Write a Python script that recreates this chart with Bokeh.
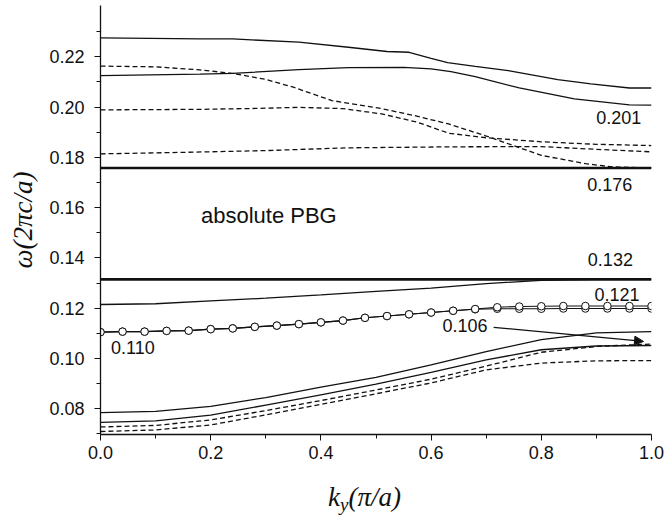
from bokeh.plotting import figure
from bokeh.layouts import column
from bokeh.models import (Label, Arrow, NormalHead, FixedTicker,
                          PrintfTickFormatter, Range1d, Div)
from bokeh.embed import file_html
from bokeh.resources import INLINE

# ---------------- data ----------------
x_ticks = [0.0, 0.2, 0.4, 0.6, 0.8, 1.0]
x_minor = [0.1, 0.3, 0.5, 0.7, 0.9]
y_ticks = [0.08, 0.10, 0.12, 0.14, 0.16, 0.18, 0.20, 0.22]
y_minor = [0.07, 0.09, 0.11, 0.13, 0.15, 0.17, 0.19, 0.21, 0.23]

# upper solid bands
t1_k = [0.0, 0.18, 0.24, 0.36, 0.45, 0.52, 0.56, 0.60, 0.63, 0.68, 0.74, 0.83, 0.89, 0.96, 1.0]
t1_w = [0.2275, 0.2271, 0.2271, 0.2258, 0.2238, 0.2221, 0.2218, 0.2194, 0.2177, 0.2162, 0.2145, 0.2109, 0.2092, 0.2076, 0.2076]
t2_k = [0.0, 0.18, 0.24, 0.36, 0.45, 0.55, 0.60, 0.636, 0.68, 0.76, 0.86, 0.96, 1.0]
t2_w = [0.2125, 0.2131, 0.2134, 0.2149, 0.2157, 0.2158, 0.2152, 0.2141, 0.2121, 0.2076, 0.2033, 0.2009, 0.2008]
# upper dashed bands
da_k = [0.0, 0.1, 0.18, 0.24, 0.30, 0.35, 0.42, 0.51, 0.57, 0.63, 0.70, 0.80, 0.88, 0.93, 1.0]
da_w = [0.2163, 0.2160, 0.2148, 0.2134, 0.2110, 0.2079, 0.2026, 0.1994, 0.1966, 0.1934, 0.1885, 0.1808, 0.1775, 0.1762, 0.1758]
db_k = [0.0, 0.18, 0.29, 0.36, 0.44, 0.51, 0.575, 0.632, 0.70, 0.80, 0.90, 1.0]
db_w = [0.1989, 0.1991, 0.1995, 0.1999, 0.1994, 0.1973, 0.1940, 0.1896, 0.1878, 0.1862, 0.1852, 0.1847]
dc_k = [0.0, 0.15, 0.30, 0.45, 0.635, 0.80, 0.90, 1.0]
dc_w = [0.1814, 0.1820, 0.1827, 0.1838, 0.1842, 0.1843, 0.1832, 0.1822]
# gap edges
gap_top = 0.1758
gap_bottom = 0.1315
# band rising to the lower gap edge
r_k = [0.0, 0.1, 0.2, 0.3, 0.4, 0.5, 0.6, 0.7, 0.8, 0.9, 1.0]
r_w = [0.1215, 0.1218, 0.1229, 0.1240, 0.1253, 0.1267, 0.1280, 0.1298, 0.1311, 0.1315, 0.1316]
# defect band (circles)
c_k = [0.00, 0.04, 0.08, 0.12, 0.16, 0.20, 0.24, 0.28, 0.32, 0.36, 0.40, 0.44, 0.48,
       0.52, 0.56, 0.60, 0.64, 0.68, 0.72, 0.76, 0.80, 0.84, 0.88, 0.92, 0.96, 1.00]
c_w1 = [0.1105, 0.1107, 0.1107, 0.1110, 0.1111, 0.1117, 0.1120, 0.1126, 0.1131, 0.1137, 0.1144, 0.1151, 0.1162,
        0.1169, 0.1176, 0.1183, 0.1190, 0.1197, 0.1204, 0.1207, 0.1208, 0.1209, 0.1209, 0.1209, 0.1209, 0.1209]
c_w2 = [0.1105, 0.1107, 0.1107, 0.1110, 0.1111, 0.1117, 0.1120, 0.1126, 0.1131, 0.1137, 0.1144, 0.1151, 0.1162,
        0.1169, 0.1176, 0.1183, 0.1190, 0.1196, 0.1198, 0.1198, 0.1198, 0.1199, 0.1199, 0.1199, 0.1199, 0.1199]
# lower bands
low_k = [0.0, 0.1, 0.2, 0.3, 0.4, 0.5, 0.6, 0.7, 0.8, 0.9, 1.0]
s1_w = [0.0785, 0.0790, 0.0810, 0.0845, 0.0886, 0.0925, 0.0975, 0.1028, 0.1075, 0.1102, 0.1107]
s2_w = [0.0746, 0.0752, 0.0775, 0.0815, 0.0856, 0.0898, 0.0945, 0.0995, 0.1035, 0.1050, 0.1052]
d1_w = [0.0728, 0.0734, 0.0756, 0.0793, 0.0833, 0.0875, 0.0918, 0.0970, 0.1025, 0.1048, 0.1058]
d2_w = [0.0710, 0.0716, 0.0736, 0.0776, 0.0818, 0.0860, 0.0903, 0.0955, 0.0982, 0.0991, 0.0992]

# ---------------- figure ----------------
Y0, Y1 = 0.0698, 0.2404
p = figure(width=664, height=484, x_range=Range1d(0.0, 1.0), y_range=Range1d(Y0, Y1),
           output_backend="svg", toolbar_location=None,
           min_border_left=100, min_border_right=13, min_border_top=5, min_border_bottom=50)
p.outline_line_color = None
p.xgrid.visible = False
p.ygrid.visible = False
p.background_fill_color = "white"
p.border_fill_color = "white"

INK = "#111111"
for ax in (p.xaxis[0], p.yaxis[0]):
    ax.axis_line_color = INK
    ax.axis_line_width = 1.3
    ax.major_tick_line_color = INK
    ax.minor_tick_line_color = INK
    ax.major_tick_out = 6
    ax.major_tick_in = 0
    ax.minor_tick_out = 4
    ax.minor_tick_in = 0
    ax.major_label_text_font = "Liberation Sans"
    ax.major_label_text_font_size = "18px"
    ax.major_label_text_color = INK

p.xaxis.ticker = FixedTicker(ticks=x_ticks, minor_ticks=x_minor)
p.yaxis.ticker = FixedTicker(ticks=y_ticks, minor_ticks=y_minor)
p.xaxis.formatter = PrintfTickFormatter(format="%.1f")
p.yaxis.formatter = PrintfTickFormatter(format="%.2f")
p.xaxis.major_label_standoff = 5
p.yaxis.major_label_standoff = 10

p.yaxis.axis_label = "ω(2πc/a)"
p.yaxis.axis_label_text_font = "Liberation Serif"
p.yaxis.axis_label_text_font_style = "italic"
p.yaxis.axis_label_text_font_size = "27px"
p.yaxis.axis_label_text_color = INK
p.yaxis.axis_label_standoff = 8

LW = 1.3
DASH = "5 3"
p.line(t1_k, t1_w, line_color=INK, line_width=LW)
p.line(t2_k, t2_w, line_color=INK, line_width=LW)
p.line(da_k, da_w, line_color=INK, line_width=LW, line_dash=DASH)
p.line(db_k, db_w, line_color=INK, line_width=LW, line_dash=DASH)
p.line(dc_k, dc_w, line_color=INK, line_width=LW, line_dash=DASH)
p.line([0.0, 1.0], [gap_top, gap_top], line_color=INK, line_width=2.6)
p.line([0.0, 1.0], [gap_bottom, gap_bottom], line_color=INK, line_width=2.6)
p.line(r_k, r_w, line_color=INK, line_width=LW)

p.line(low_k, s1_w, line_color=INK, line_width=LW)
p.line(low_k, s2_w, line_color=INK, line_width=LW)
p.line(low_k, d1_w, line_color=INK, line_width=LW, line_dash=DASH)
p.line(low_k, d2_w, line_color=INK, line_width=LW, line_dash=DASH)

p.line(c_k, c_w2, line_color=INK, line_width=1.1)
p.line(c_k, c_w1, line_color=INK, line_width=1.1)
p.scatter(c_k, c_w2, marker="circle", size=7.5, fill_color="white", line_color=INK, line_width=1)
p.scatter(c_k, c_w1, marker="circle", size=7.5, fill_color="white", line_color=INK, line_width=1)

# ---------------- annotations ----------------
def lab(x, y, t, size="18px", font="Liberation Sans", style="normal", **kw):
    p.add_layout(Label(x=x, y=y, text=t, text_font=font, text_font_size=size,
                       text_font_style=style, text_color=INK, **kw))

lab(0.1823, 0.1521, "absolute PBG", size="22px")
lab(0.8997, 0.1931, "0.201")
lab(0.8834, 0.1668, "0.176")
lab(0.8845, 0.1370, "0.132")
lab(0.8966, 0.1228, "0.121")
lab(0.6205, 0.1105, "0.106")
lab(0.0190, 0.1019, "0.110")

p.add_layout(Arrow(end=NormalHead(size=9, fill_color=INK, line_color=INK),
                   x_start=0.7135, y_start=0.1124, x_end=0.9855, y_end=0.1068,
                   line_color=INK, line_width=1.2))

# x-axis title: k with subscript y, as real text below the plot
xtitle = Div(
    text=('<div style="font-family:\'Liberation Serif\';font-style:italic;font-size:27px;'
          'line-height:27px;color:#111;padding-left:328px;white-space:nowrap;">'
          'k<sub style="font-size:19px;line-height:0;vertical-align:-5px;">y</sub>(π/a)</div>'),
    width=664, height=36, margin=(0, 0, 0, 0))

page = column(p, xtitle, spacing=0)
open("out.html", "w").write(file_html(page, INLINE))
